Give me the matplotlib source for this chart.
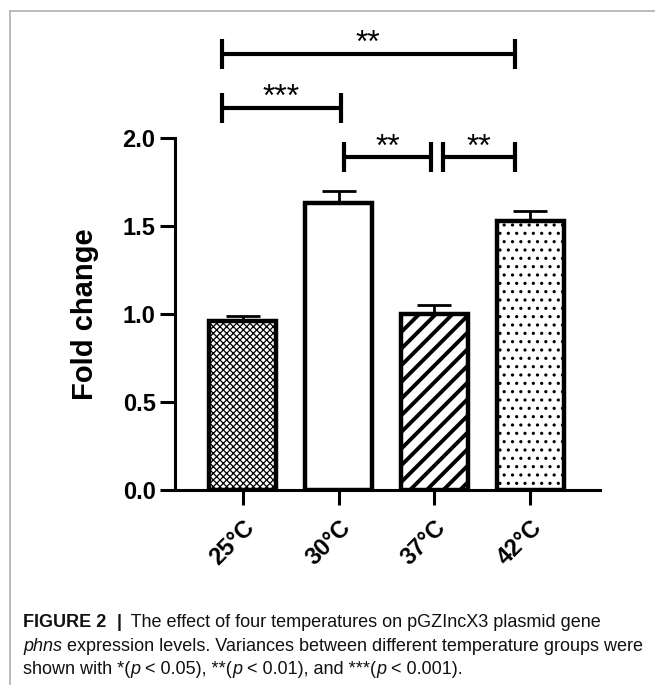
import matplotlib
matplotlib.use("Agg")
import matplotlib.pyplot as plt
from matplotlib.lines import Line2D

# data
temps = ["25°C", "30°C", "37°C", "42°C"]
fold_change = [0.96, 1.63, 1.00, 1.53]
sem = [0.03, 0.07, 0.05, 0.055]
hatches = ["xxxxx", "", "//", ".."]
hatch_lw = [0.9, 1.0, 2.8, 1.1]

# significance comparisons: (left, right, label)
comparisons = [("25°C", "42°C", "**"), ("25°C", "30°C", "***"),
               ("30°C", "37°C", "**"), ("37°C", "42°C", "**")]

# bracket layout (data units)
br_x = [(-0.22, 2.84), (-0.22, 1.02), (1.06, 1.96), (2.09, 2.84)]
br_y = [2.477, 2.17, 1.89, 1.89]

plt.rcParams["font.family"] = ["Liberation Sans", "DejaVu Sans"]

fig = plt.figure(figsize=(6.55, 6.85), dpi=100)
W, H = 655, 685
ax = fig.add_axes([175 / W, 1 - 490 / H, 425 / W, 352 / H])

x = list(range(len(temps)))
ax.errorbar(x, fold_change, yerr=[[0] * 4, sem], fmt="none", ecolor="black",
            elinewidth=2, capsize=12, capthick=2, zorder=1)
for i in x:
    with plt.rc_context({"hatch.linewidth": hatch_lw[i], "hatch.color": "#1a1a1a"}):
        ax.bar(i, fold_change[i], width=0.7, color="white", edgecolor="black",
               linewidth=3.2, hatch=hatches[i], zorder=2)

ax.set_xlim(-0.71, 3.73)
ax.set_ylim(0, 2.0)
ax.set_yticks([0, 0.5, 1.0, 1.5, 2.0])
ax.set_yticklabels(["0.0", "0.5", "1.0", "1.5", "2.0"])
ax.set_xticks(x)
ax.set_xticklabels(temps, rotation=45, ha="right", rotation_mode="anchor")
for s in ["top", "right"]:
    ax.spines[s].set_visible(False)
for s in ["left", "bottom"]:
    ax.spines[s].set_linewidth(2.2)
ax.tick_params(axis="both", width=2.2, length=11, labelsize=17, pad=3)
ax.tick_params(axis="x", pad=8)
for lab in ax.get_xticklabels() + ax.get_yticklabels():
    lab.set_fontweight("bold")
ax.set_ylabel("Fold change", fontsize=21, fontweight="bold", labelpad=17)

# significance brackets
tick_h = 0.085
for (x0, x1), yb, (_, _, lab) in zip(br_x, br_y, comparisons):
    ax.plot([x0, x1], [yb, yb], color="black", lw=3, clip_on=False,
            solid_capstyle="butt")
    for xe in (x0, x1):
        ax.plot([xe, xe], [yb - tick_h, yb + tick_h], color="black", lw=3,
                clip_on=False, solid_capstyle="butt")
    ax.text((x0 + x1) / 2, yb - 0.03, lab, ha="center", va="bottom",
            fontsize=23, clip_on=False)

# page frame
fig.add_artist(Line2D([10 / W, 1], [1 - 11 / H, 1 - 11 / H], color="#b4b4b4", lw=1.3))
fig.add_artist(Line2D([10 / W, 10 / W], [0, 1 - 11 / H], color="#b4b4b4", lw=1.3))

# caption
renderer = fig.canvas.get_renderer()


def rich_line(y, parts, x0=23 / W, size=13):
    xc = x0
    for txt, style in parts:
        kw = {}
        if "b" in style:
            kw["fontweight"] = "bold"
        if "i" in style:
            kw["fontstyle"] = "italic"
        t = fig.text(xc, y, txt, fontsize=size, va="baseline", ha="left",
                     color="#111111", **kw)
        bb = t.get_window_extent(renderer=renderer)
        xc = bb.x1 / fig.bbox.width


rich_line(1 - 627 / H, [("FIGURE 2", "b"), ("  ", ""), ("|", "b"),
                        ("  The effect of four temperatures on pGZIncX3 plasmid gene", "")])
rich_line(1 - 651 / H, [("phns", "i"), (" expression levels. Variances between different temperature groups were", "")])
rich_line(1 - 674 / H, [("shown with *(", ""), ("p", "i"), (" < 0.05), **(", ""), ("p", "i"),
                        (" < 0.01), and ***(", ""), ("p", "i"), (" < 0.001).", "")])

fig.savefig("out.png", dpi=100)
